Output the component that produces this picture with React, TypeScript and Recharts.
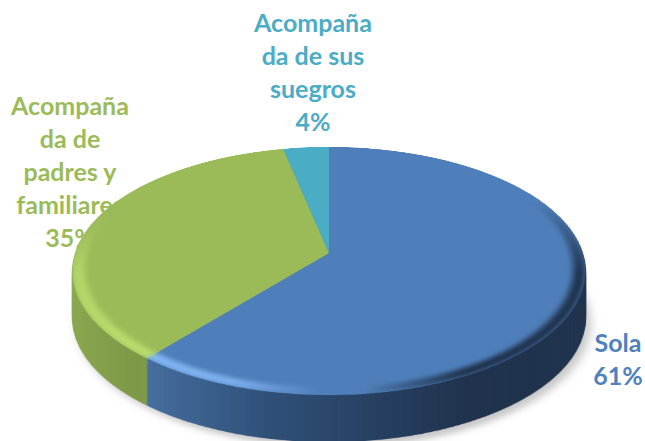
import React from "react";
import { PieChart, Pie, Cell } from "recharts";

const categories = ["Sola", "Acompañada de padres y familiares", "Acompañada de sus suegros"];
const shares = [61, 35.7, 3.3];
const topColors = ["#4f7fba", "#9bbb59", "#4bacc6"];
const sideFills = ["url(#sideBlue)", "url(#sideGreen)", "#35798c"];
const rimFills = ["url(#rimBlue)", "url(#rimGreen)", "#4bacc6"];
const tickLines = [
  ["Sola", "61%"],
  ["Acompaña", "da de", "padres y", "familiares", "35%"],
  ["Acompaña", "da de sus", "suegros", "4%"],
];
const labelCenters = [618, 70, 313];
const labelBaselines = [352, 115, 32];
const labelColors = ["#4f81bd", "#9bbb59", "#4bacc6"];

const rows = categories.map((name, i) => ({ name, value: shares[i] }));

const SIZE = 520;
const R = 254;
const CX = 329;
const CY = 253;
const DEPTH = 47;
const tilt = "perspective(1536px) rotateX(61.4deg)";
const sideLayers = Array.from({ length: DEPTH }, (_, i) => DEPTH - i);

const Defs = () => (
  <defs>
    <linearGradient id="sideBlue" gradientUnits="userSpaceOnUse" x1="70" y1="0" x2="380" y2="0">
      <stop offset="0" stopColor="#4a76a8" />
      <stop offset="0.45" stopColor="#2f4f78" />
      <stop offset="1" stopColor="#1f324c" />
    </linearGradient>
    <linearGradient id="sideGreen" gradientUnits="userSpaceOnUse" x1="0" y1="0" x2="80" y2="0">
      <stop offset="0" stopColor="#8dab50" />
      <stop offset="1" stopColor="#7d9947" />
    </linearGradient>
    <linearGradient id="rimBlue" gradientUnits="userSpaceOnUse" x1="60" y1="380" x2="400" y2="460">
      <stop offset="0" stopColor="#86bbf8" />
      <stop offset="0.4" stopColor="#7cb0ee" />
      <stop offset="0.62" stopColor="#4f7fba" />
      <stop offset="0.72" stopColor="#4f7fba" />
      <stop offset="0.95" stopColor="#1f324c" />
    </linearGradient>
    <linearGradient id="rimGreen" gradientUnits="userSpaceOnUse" x1="0" y1="420" x2="0" y2="170">
      <stop offset="0" stopColor="#b9dc6c" />
      <stop offset="0.6" stopColor="#b2d468" />
      <stop offset="1" stopColor="#9bbb59" />
    </linearGradient>
  </defs>
);

const Disc = ({ fills, inner = 0 }: { fills: string[]; inner?: number }) => (
  <PieChart width={SIZE} height={SIZE} margin={{ top: 0, right: 0, bottom: 0, left: 0 }}>
    <Defs />
    <Pie
      data={rows}
      dataKey="value"
      nameKey="name"
      cx={SIZE / 2}
      cy={SIZE / 2}
      innerRadius={inner}
      outerRadius={R}
      startAngle={90}
      endAngle={-270}
      stroke="none"
      isAnimationActive={false}
    >
      {rows.map((r, i) => (
        <Cell key={r.name} fill={fills[i]} stroke="none" />
      ))}
    </Pie>
  </PieChart>
);

const place: React.CSSProperties = {
  position: "absolute",
  left: CX - SIZE / 2,
  top: CY - SIZE / 2,
  width: SIZE,
  height: SIZE,
  transformOrigin: "50% 50%",
};

const rimMask = "linear-gradient(to bottom, transparent 28%, #000 58%)";

export default function App() {
  return (
    <div style={{ position: "absolute", left: 0, top: 0, width: 645, height: 441, overflow: "hidden", background: "#fff" }}>
      <svg width={645} height={441} style={{ position: "absolute", left: 0, top: 0 }}>
        {tickLines.map((lines, i) => (
          <text
            key={i}
            textAnchor="middle"
            fontFamily="Lato"
            fontWeight={700}
            fontSize={25}
            fill={labelColors[i]}
          >
            {lines.map((line, j) => (
              <tspan key={j} x={labelCenters[i]} y={labelBaselines[i] + j * 33}>
                {line}
              </tspan>
            ))}
          </text>
        ))}
      </svg>
      <div
        style={{
          ...place,
          transform: `translate(5px, ${DEPTH + 5}px) ${tilt}`,
          filter: "blur(5px)",
          opacity: 0.22,
        }}
      >
        <Disc fills={["#000", "#000", "#000"]} />
      </div>
      {sideLayers.map((d) => (
        <div key={d} style={{ ...place, transform: `translateY(${d}px) ${tilt}` }}>
          <Disc fills={sideFills} />
        </div>
      ))}
      <div style={{ ...place, transform: tilt, clipPath: `circle(${R}px at 50% 50%)` }}>
        <Disc fills={topColors} />
        <div
          style={{
            position: "absolute",
            left: 0,
            top: 0,
            width: SIZE,
            height: SIZE,
            WebkitMaskImage: rimMask,
            maskImage: rimMask,
          }}
        >
          <div style={{ filter: "blur(3px)" }}>
            <Disc fills={rimFills} inner={R - 12} />
          </div>
        </div>
      </div>
    </div>
  );
}
